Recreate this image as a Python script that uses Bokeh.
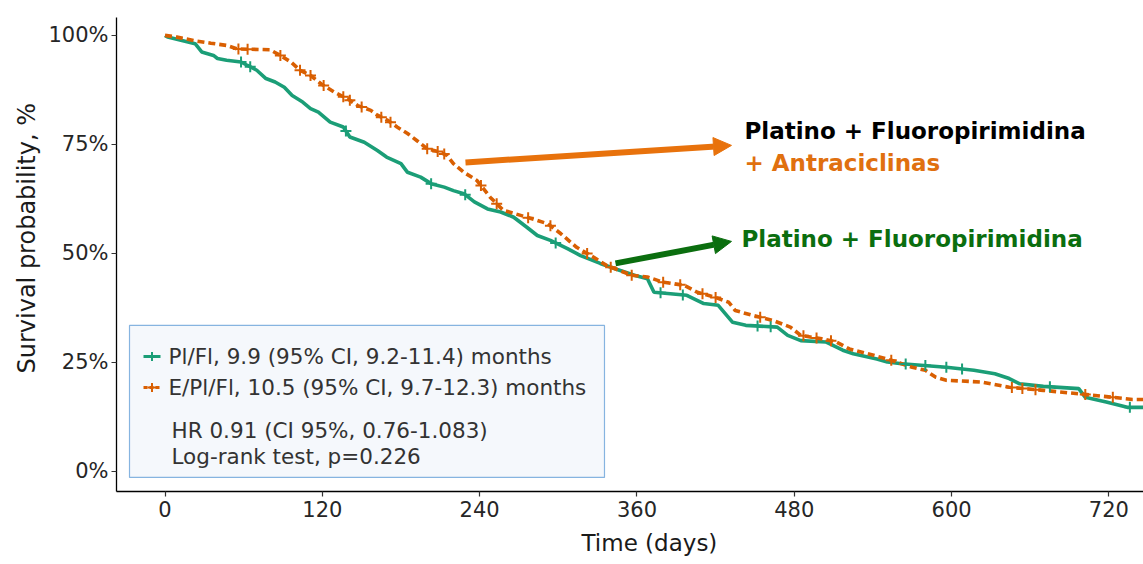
import numpy as np
from bokeh.plotting import figure
from bokeh.models import Range1d, FixedTicker, Label, Arrow, NormalHead, Title
from bokeh.embed import file_html
from bokeh.resources import INLINE

# ---------------- data ----------------
pl_fl_time = [0, 2, 23, 28, 37, 40, 47, 58, 63, 70, 77, 84, 91, 97, 105, 111, 117, 126, 136, 141,
              152, 162, 169, 180, 185, 195, 203, 213, 220, 228, 236, 246, 256, 266, 276, 284, 294, 307, 317, 332,
              345, 358, 368, 373, 398, 411, 422, 433, 443, 467, 475, 485, 504, 517, 525, 543, 551, 562, 596, 617,
              633, 644, 652, 670, 697, 702, 718, 734]
pl_fl_surv = [1.000, 0.996, 0.981, 0.962, 0.954, 0.947, 0.943, 0.939, 0.931, 0.920,
              0.901, 0.893, 0.881, 0.862, 0.847, 0.832, 0.824, 0.801, 0.790, 0.767,
              0.755, 0.736, 0.721, 0.706, 0.686, 0.675, 0.660, 0.652, 0.644, 0.637,
              0.618, 0.602, 0.595, 0.583, 0.560, 0.541, 0.530, 0.511, 0.495, 0.477,
              0.463, 0.450, 0.442, 0.411, 0.404, 0.385, 0.381, 0.342, 0.335, 0.331,
              0.312, 0.300, 0.297, 0.278, 0.270, 0.258, 0.251, 0.247, 0.239, 0.232,
              0.224, 0.213, 0.201, 0.195, 0.190, 0.170, 0.159, 0.147]
pl_fl_censor = [58, 65, 138, 203, 229, 298, 378, 395, 452, 462, 565, 580, 596, 608, 675, 736]

e_pl_fl_time = [0, 9, 24, 35, 47, 55, 80, 88, 96, 103, 111, 119, 129, 139, 147, 157, 162, 170, 177, 185,
                192, 200, 210, 215, 220, 228, 238, 248, 258, 276, 292, 302, 314, 327, 337, 356, 368, 380, 396, 406,
                419, 430, 435, 448, 464, 477, 485, 501, 512, 522, 536, 554, 570, 580, 588, 596, 623, 644, 670, 697,
                723, 738]
e_pl_fl_surv = [1.000, 0.996, 0.987, 0.982, 0.977, 0.969, 0.967, 0.954, 0.939, 0.920,
                0.908, 0.889, 0.870, 0.855, 0.839, 0.828, 0.817, 0.805, 0.790, 0.775,
                0.759, 0.740, 0.732, 0.725, 0.706, 0.686, 0.667, 0.629, 0.599, 0.583,
                0.568, 0.545, 0.514, 0.491, 0.472, 0.450, 0.446, 0.434, 0.427, 0.411,
                0.400, 0.388, 0.369, 0.358, 0.346, 0.331, 0.312, 0.304, 0.297, 0.281,
                0.270, 0.255, 0.239, 0.232, 0.216, 0.209, 0.205, 0.193, 0.186, 0.178,
                0.170, 0.165]
e_pl_fl_censor = [56, 63, 88, 103, 111, 121, 136, 141, 150, 165, 172, 200, 208, 213, 241, 253, 277,
                  294, 322, 340, 356, 380, 393, 410, 420, 454, 487, 497, 508, 554, 646, 654, 664, 702, 723]

x_ticks = [0, 120, 240, 360, 480, 600, 720]
y_ticks = [0.0, 0.25, 0.5, 0.75, 1.0]
y_tick_labels = ["0%", "25%", "50%", "75%", "100%"]

legend_lines = ["Pl/Fl, 9.9 (95% CI, 9.2-11.4) months",
                "E/Pl/Fl, 10.5 (95% CI, 9.7-12.3) months"]
stats_lines = ["HR 0.91 (CI 95%, 0.76-1.083)", "Log-rank test, p=0.226"]

# ---------------- styles ----------------
GREEN = "#1b9e77"
ORANGE = "#d95f02"
ARROW_OR = "#e8720c"
TXT_OR = "#e0700f"
TXT_GR = "#0b6e0f"
FONT = "DejaVu Sans"
TXT = "#333333"

X0, X1 = -37.0, 746.4
Y0, Y1 = -0.046, 1.041

p = figure(width=1143, height=564, x_range=Range1d(X0, X1), y_range=Range1d(Y0, Y1),
           output_backend="svg", toolbar_location=None,
           min_border_left=116, min_border_right=0, min_border_top=17, min_border_bottom=73)
p.outline_line_color = None
p.xgrid.visible = False
p.ygrid.visible = False
p.background_fill_color = "white"

for ax in (p.xaxis[0], p.yaxis[0]):
    ax.axis_line_color = "black"
    ax.axis_line_width = 1.3
    ax.major_tick_line_color = "#333333"
    ax.major_tick_line_width = 1.2
    ax.major_tick_in = 0
    ax.major_tick_out = 5
    ax.minor_tick_line_color = None
    ax.major_label_text_font = FONT
    ax.major_label_text_font_size = "21px"
    ax.major_label_text_color = "#262626"

p.xaxis.ticker = FixedTicker(ticks=x_ticks)
p.xaxis.major_label_standoff = 4
p.yaxis.ticker = FixedTicker(ticks=y_ticks)
p.yaxis.major_label_overrides = {v: l for v, l in zip(y_ticks, y_tick_labels)}
p.yaxis.major_label_standoff = 3

# axis titles (placed off-centre, as in the original)
p.add_layout(Title(text="Time (days)", align="left", offset=465, standoff=17,
                   text_font=FONT, text_font_size="23px", text_font_style="normal",
                   text_color="#1a1a1a"), "below")
p.add_layout(Title(text="Survival probability, %", align="left", offset=118, standoff=10,
                   text_font=FONT, text_font_size="24px", text_font_style="normal",
                   text_color="#1a1a1a"), "left")

# curves
gx = list(pl_fl_time) + [X1]
gy = list(pl_fl_surv) + [pl_fl_surv[-1]]
p.line(gx, gy, line_color=GREEN, line_width=3.6)
ox = list(e_pl_fl_time) + [X1]
oy = list(e_pl_fl_surv) + [e_pl_fl_surv[-1]]
p.line(ox, oy, line_color=ORANGE, line_width=3.6, line_dash="7 4")

p.scatter(pl_fl_censor, np.interp(pl_fl_censor, gx, gy), marker="cross",
          size=11, line_color=GREEN, line_width=2)
p.scatter(e_pl_fl_censor, np.interp(e_pl_fl_censor, ox, oy), marker="cross",
          size=11, line_color=ORANGE, line_width=2)


# pixel -> data helpers for annotation layout
def dx(px):
    return (px - 164.5) / 1.311


def dy(py):
    return (471.0 - py) / 436.0


# legend box
p.quad(left=[dx(129)], right=[dx(604)], top=[dy(325)], bottom=[dy(477)],
       fill_color="#f5f8fc", line_color="#86b4e0", line_width=1.2)

for row, (col, txt, dash) in enumerate([(GREEN, legend_lines[0], "solid"), (ORANGE, legend_lines[1], "4 2")]):
    yy = dy(356 + 31 * row)
    p.segment(x0=[dx(143)], x1=[dx(160)], y0=[yy], y1=[yy], line_color=col, line_width=3, line_dash=dash)
    p.scatter([dx(151.5)], [yy], marker="cross", size=9, line_color=col, line_width=2)
    p.add_layout(Label(x=dx(168), y=yy, text=txt, text_font=FONT, text_font_size="21.5px",
                       text_color=TXT, text_baseline="middle", text_align="left"))

for row, txt in enumerate(stats_lines):
    p.add_layout(Label(x=dx(171), y=dy(430 + 26 * row), text=txt, text_font=FONT,
                       text_font_size="21.5px", text_color=TXT, text_baseline="middle", text_align="left"))

# arrows
p.add_layout(Arrow(end=NormalHead(size=18, fill_color=ARROW_OR, line_color=ARROW_OR),
                   x_start=dx(465), y_start=dy(162), x_end=dx(731), y_end=dy(145),
                   line_color=ARROW_OR, line_width=6))
p.add_layout(Arrow(end=NormalHead(size=18, fill_color=TXT_GR, line_color=TXT_GR),
                   x_start=dx(615), y_start=dy(263), x_end=dx(731), y_end=dy(241),
                   line_color=TXT_GR, line_width=6))

# annotation texts
p.add_layout(Label(x=dx(744), y=dy(131), text="Platino + Fluoropirimidina", text_font=FONT,
                   text_font_style="bold", text_font_size="23px", text_color="black",
                   text_baseline="middle", text_align="left"))
p.add_layout(Label(x=dx(744), y=dy(163), text="+ Antraciclinas", text_font=FONT,
                   text_font_style="bold", text_font_size="23px", text_color=TXT_OR,
                   text_baseline="middle", text_align="left"))
p.add_layout(Label(x=dx(741), y=dy(239), text="Platino + Fluoropirimidina", text_font=FONT,
                   text_font_style="bold", text_font_size="23px", text_color=TXT_GR,
                   text_baseline="middle", text_align="left"))

open("out.html", "w").write(file_html(p, INLINE))
